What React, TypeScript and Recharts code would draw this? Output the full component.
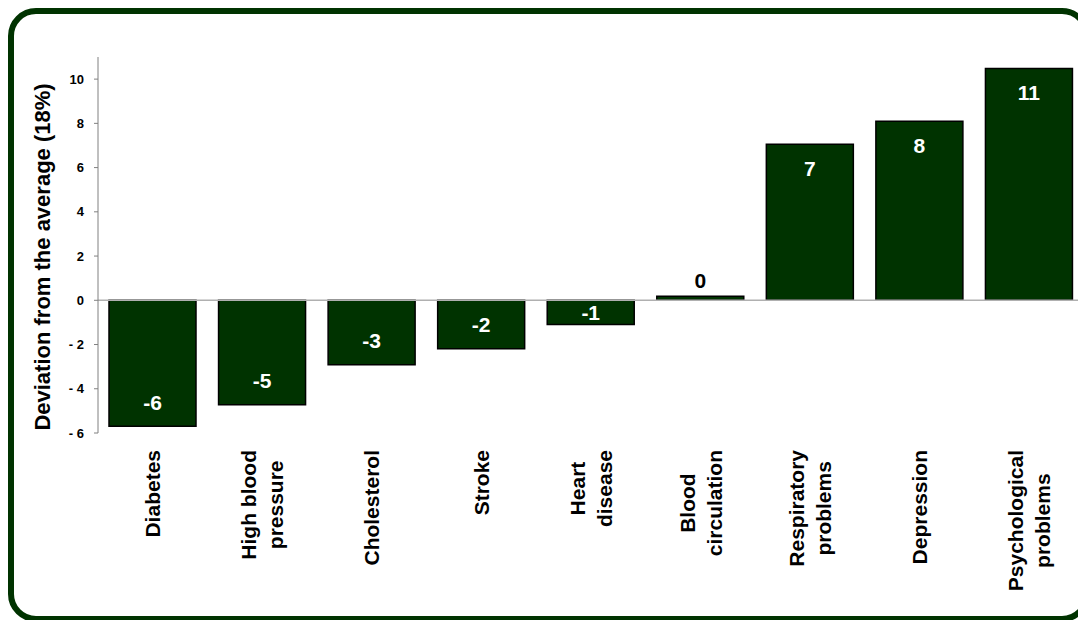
import { BarChart, Bar, XAxis, YAxis, ReferenceLine, LabelList, Label } from 'recharts'

// values
const CATEGORIES = [
  'Diabetes',
  'High blood\npressure',
  'Cholesterol',
  'Stroke',
  'Heart\ndisease',
  'Blood\ncirculation',
  'Respiratory\nproblems',
  'Depression',
  'Psychological\nproblems',
]
const DEVIATIONS = [-5.7, -4.72, -2.91, -2.19, -1.1, 0.18, 7.05, 8.09, 10.48]
const VALUE_LABELS = ['-6', '-5', '-3', '-2', '-1', '0', '7', '8', '11']
const Y_TICKS = [-6, -4, -2, 0, 2, 4, 6, 8, 10]

const GREEN = '#003300'
const FONT = '"Liberation Sans", Arial, Helvetica, sans-serif'
const CAT_FONT_SIZE = 21

const data = CATEGORIES.map((name, i) => ({ name, value: DEVIATIONS[i], label: VALUE_LABELS[i] }))

let measureCtx: CanvasRenderingContext2D | null = null
function textWidth(s: string): number {
  if (!measureCtx) measureCtx = document.createElement('canvas').getContext('2d')
  if (!measureCtx) return s.length * CAT_FONT_SIZE * 0.55
  measureCtx.font = `bold ${CAT_FONT_SIZE}px ${FONT}`
  return measureCtx.measureText(s).width
}

function CategoryTick(props: any) {
  const { x, y, payload } = props
  const lines = String(payload.value).split('\n')
  const longest = Math.max(...lines.map(textWidth))
  const top = y + 17
  const cy = top + longest / 2
  const lh = 27
  return (
    <g>
      {lines.map((ln, i) => {
        const lx = x + (i - (lines.length - 1) / 2) * lh
        return (
          <text
            key={i}
            x={lx}
            y={cy}
            transform={`rotate(-90 ${lx} ${cy})`}
            textAnchor="middle"
            dominantBaseline="central"
            fontSize={CAT_FONT_SIZE}
            fontWeight="bold"
            fill="#000"
          >
            {ln}
          </text>
        )
      })}
    </g>
  )
}

function ValueLabel(props: any) {
  const { x, y, width, height, index } = props
  const row = data[index]
  if (!row) return null
  const top = Math.min(y, y + height)
  const bottom = Math.max(y, y + height)
  const h = bottom - top
  const cx = x + width / 2
  let cy: number
  let fill = '#fff'
  if (h < 20) {
    cy = top - 16
    fill = '#000'
  } else if (row.value >= 0) {
    cy = top + Math.min(24, h / 2)
  } else {
    cy = bottom - Math.min(24, h / 2)
  }
  return (
    <text
      x={cx}
      y={cy}
      textAnchor="middle"
      dominantBaseline="central"
      fontSize={21}
      fontWeight="bold"
      fill={fill}
    >
      {row.label}
    </text>
  )
}

export default function App() {
  return (
    <div
      style={{
        position: 'fixed',
        left: 0,
        top: 0,
        width: 1078,
        height: 620,
        overflow: 'hidden',
        background: '#fff',
        fontFamily: FONT,
      }}
    >
      <div
        style={{
          position: 'absolute',
          left: 8,
          top: 8,
          width: 1082,
          height: 614,
          boxSizing: 'border-box',
          border: `6px solid ${GREEN}`,
          borderRadius: 28,
        }}
      />
      <div style={{ position: 'absolute', left: 0, top: 0 }}>
        <BarChart
          width={1100}
          height={620}
          data={data}
          margin={{ top: 57, right: 16, bottom: 0, left: 18 }}
          barSize={87}
        >
          <XAxis
            dataKey="name"
            axisLine={false}
            tickLine={false}
            tickSize={0}
            tickMargin={0}
            height={187}
            interval={0}
            tick={<CategoryTick />}
          />
          <YAxis
            width={80}
            domain={[-6, 11]}
            ticks={Y_TICKS}
            interval={0}
            allowDataOverflow
            stroke="#808080"
            tickSize={4}
            tickMargin={10}
            tick={{ fill: '#000', fontSize: 13, fontWeight: 'bold' }}
            tickFormatter={(v: number) => (v < 0 ? `- ${-v}` : String(v))}
          >
            <Label
              content={() => (
                <text
                  x={42}
                  y={257}
                  transform="rotate(-90 42 257)"
                  textAnchor="middle"
                  dominantBaseline="central"
                  fontSize={22}
                  fontWeight="bold"
                  fill="#000"
                >
                  Deviation from the average (18%)
                </text>
              )}
            />
          </YAxis>
          <ReferenceLine y={0} stroke="#b0b0b0" strokeWidth={1.5} />
          <Bar dataKey="value" fill={GREEN} stroke="#000" strokeWidth={1.5} isAnimationActive={false}>
            <LabelList dataKey="value" content={<ValueLabel />} />
          </Bar>
        </BarChart>
      </div>
    </div>
  )
}
